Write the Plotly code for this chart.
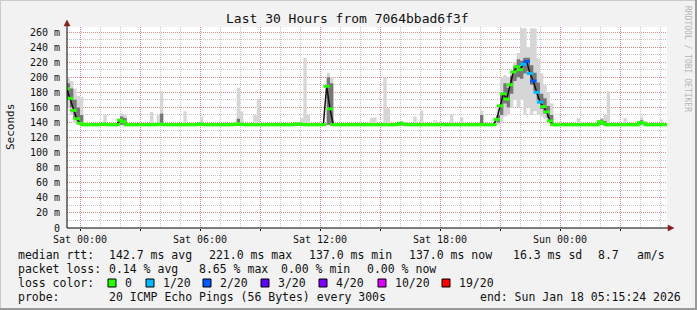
import plotly.graph_objects as go
import pandas as pd

# ---------------- data (10-minute samples starting Fri 2026-01-16 23:20) ----------------
start_time = "2026-01-16 23:20"
step = "10min"

median_ms = [
    185, 172, 156, 145, 139, 137, 137, 137, 137, 137,
    137, 138, 137, 137, 137, 137, 143, 141, 137, 137,
    137, 137, 137, 137, 137, 137, 137, 137, 138, 137,
    137, 137, 137, 137, 137, 137, 137, 137, 137, 137,
    138, 137, 137, 137, 137, 137, 137, 137, 137, 137,
    137, 138, 138, 137, 137, 137, 137, 137, 137, 137,
    137, 137, 137, 137, 137, 137, 137, 137, 137, 138,
    138, 137, 137, 137, 137, 137, 137, 137, 188, 158,
    137, 137, 137, 137, 137, 137, 137, 137, 137, 137,
    137, 137, 137, 137, 137, 137, 137, 137, 137, 137,
    139, 138, 137, 137, 137, 137, 137, 137, 137, 137,
    137, 137, 137, 137, 137, 137, 137, 137, 137, 137,
    137, 137, 137, 137, 137, 137, 137, 137, 137, 144,
    162, 178, 171, 190, 207, 214, 210, 217, 221, 205,
    195, 180, 167, 161, 154, 142, 137, 137, 137, 137,
    137, 137, 137, 137, 137, 137, 137, 137, 137, 137,
    141, 139, 137, 137, 137, 137, 137, 137, 137, 137,
    137, 137, 140, 139, 137, 137, 137, 137, 137, 137,
    137,
]

# lost pings out of 20 for each sample
loss_20 = [
    0, 0, 0, 0, 0, 0, 0, 0, 0, 0,
    0, 0, 0, 0, 0, 0, 0, 0, 0, 0,
    0, 0, 0, 0, 0, 0, 0, 0, 0, 0,
    0, 0, 0, 0, 0, 0, 0, 0, 0, 0,
    0, 0, 0, 0, 0, 0, 0, 0, 0, 0,
    0, 0, 0, 0, 0, 0, 0, 0, 0, 0,
    0, 0, 0, 0, 0, 0, 0, 0, 0, 0,
    0, 0, 0, 0, 0, 0, 0, 0, 0, 0,
    0, 0, 0, 0, 0, 0, 0, 0, 0, 0,
    0, 0, 0, 0, 0, 0, 0, 0, 0, 0,
    0, 0, 0, 0, 0, 0, 0, 0, 0, 0,
    0, 0, 0, 0, 0, 0, 0, 0, 0, 0,
    0, 0, 0, 0, 0, 0, 0, 0, 0, 0,
    0, 0, 0, 0, 0, 0, 0, 1, 2, 1,
    2, 1, 1, 0, 0, 0, 0, 0, 0, 0,
    0, 0, 0, 0, 0, 0, 0, 0, 0, 0,
    0, 0, 0, 0, 0, 0, 0, 0, 0, 0,
    0, 0, 0, 0, 0, 0, 0, 0, 0, 0,
    0,
]

# outer smoke (slowest / fastest ping)
smoke_max = [
    200, 195, 185, 175, 174, 140, 139, 139, 139, 139,
    139, 150, 139, 139, 139, 139, 152, 150, 139, 139,
    139, 139, 139, 139, 139, 154, 139, 150, 181, 139,
    139, 139, 139, 139, 139, 155, 139, 139, 139, 139,
    148, 139, 139, 139, 139, 139, 139, 139, 139, 139,
    139, 186, 155, 139, 139, 139, 150, 171, 139, 139,
    139, 139, 139, 139, 139, 139, 139, 139, 139, 139,
    146, 226, 150, 139, 139, 139, 139, 139, 206, 200,
    139, 139, 139, 139, 139, 139, 139, 139, 139, 139,
    139, 146, 147, 139, 139, 200, 159, 139, 139, 139,
    141, 139, 139, 139, 148, 139, 156, 139, 139, 139,
    143, 139, 139, 139, 139, 151, 139, 139, 147, 139,
    139, 139, 139, 139, 156, 139, 139, 139, 140, 160,
    200, 203, 200, 205, 220, 232, 265, 265, 240, 265,
    265, 225, 205, 190, 180, 165, 140, 139, 139, 139,
    139, 139, 139, 146, 139, 139, 139, 139, 139, 139,
    146, 150, 181, 139, 139, 139, 139, 146, 139, 139,
    139, 139, 148, 142, 139, 139, 139, 139, 144, 139,
    139,
]
smoke_min = [
    160, 150, 140, 137, 136, 136, 136, 136, 136, 136,
    136, 136, 136, 136, 136, 136, 136, 136, 136, 136,
    136, 136, 136, 136, 136, 136, 136, 136, 136, 136,
    136, 136, 136, 136, 136, 136, 136, 136, 136, 136,
    136, 136, 136, 136, 136, 136, 136, 136, 136, 136,
    136, 136, 136, 136, 136, 136, 136, 136, 136, 136,
    136, 136, 136, 136, 136, 136, 136, 136, 136, 136,
    136, 136, 136, 136, 136, 136, 136, 136, 136, 136,
    136, 136, 136, 136, 136, 136, 136, 136, 136, 136,
    136, 136, 136, 136, 136, 136, 136, 136, 136, 136,
    136, 136, 136, 136, 136, 136, 136, 136, 136, 136,
    136, 136, 136, 136, 136, 136, 136, 136, 136, 136,
    136, 136, 136, 136, 136, 136, 136, 136, 136, 137,
    140, 148, 150, 160, 170, 160, 170, 150, 160, 150,
    155, 150, 148, 145, 142, 137, 136, 136, 136, 136,
    136, 136, 136, 136, 136, 136, 136, 136, 136, 136,
    136, 136, 136, 136, 136, 136, 136, 136, 136, 136,
    136, 136, 136, 136, 136, 136, 136, 136, 136, 136,
    136,
]

# inner (dense) smoke
core_max = [
    192, 185, 170, 160, 150, 137, 137, 137, 137, 137,
    137, 137, 137, 137, 137, 137, 148, 146, 137, 137,
    137, 137, 137, 137, 137, 137, 137, 137, 152, 137,
    137, 137, 137, 137, 137, 137, 137, 137, 137, 137,
    137, 137, 137, 137, 137, 137, 137, 137, 137, 137,
    137, 145, 137, 137, 137, 137, 137, 137, 137, 137,
    137, 137, 137, 137, 137, 137, 137, 137, 137, 137,
    137, 137, 137, 137, 137, 137, 137, 137, 200, 192,
    137, 137, 137, 137, 137, 137, 137, 137, 137, 137,
    137, 137, 137, 137, 137, 137, 137, 137, 137, 137,
    141, 137, 137, 137, 137, 137, 137, 137, 137, 137,
    137, 137, 137, 137, 137, 137, 137, 137, 137, 137,
    137, 137, 137, 137, 150, 137, 137, 137, 137, 150,
    178, 192, 186, 202, 215, 224, 222, 226, 226, 216,
    206, 193, 178, 172, 162, 150, 137, 137, 137, 137,
    137, 137, 137, 137, 137, 137, 137, 137, 137, 137,
    144, 142, 137, 137, 137, 137, 137, 137, 137, 137,
    137, 137, 143, 137, 137, 137, 137, 137, 137, 137,
    137,
]
core_min = [
    170, 160, 145, 138, 137, 137, 137, 137, 137, 137,
    137, 137, 137, 137, 137, 137, 137, 137, 137, 137,
    137, 137, 137, 137, 137, 137, 137, 137, 137, 137,
    137, 137, 137, 137, 137, 137, 137, 137, 137, 137,
    137, 137, 137, 137, 137, 137, 137, 137, 137, 137,
    137, 137, 137, 137, 137, 137, 137, 137, 137, 137,
    137, 137, 137, 137, 137, 137, 137, 137, 137, 137,
    137, 137, 137, 137, 137, 137, 137, 137, 137, 137,
    137, 137, 137, 137, 137, 137, 137, 137, 137, 137,
    137, 137, 137, 137, 137, 137, 137, 137, 137, 137,
    136, 137, 137, 137, 137, 137, 137, 137, 137, 137,
    137, 137, 137, 137, 137, 137, 137, 137, 137, 137,
    137, 137, 137, 137, 137, 137, 137, 137, 137, 140,
    150, 165, 160, 178, 195, 200, 198, 205, 208, 190,
    182, 170, 158, 152, 146, 138, 137, 137, 137, 137,
    137, 137, 137, 137, 137, 137, 137, 137, 137, 137,
    137, 137, 137, 137, 137, 137, 137, 137, 137, 137,
    137, 137, 137, 137, 137, 137, 137, 137, 137, 137,
    137,
]

# axis ticks
x_tick_times = ["2026-01-17 00:00", "2026-01-17 03:00", "2026-01-17 06:00", "2026-01-17 09:00",
                "2026-01-17 12:00", "2026-01-17 15:00", "2026-01-17 18:00", "2026-01-17 21:00",
                "2026-01-18 00:00", "2026-01-18 03:00"]
x_tick_labels = ["Sat 00:00", "", "Sat 06:00", "", "Sat 12:00", "", "Sat 18:00", "", "Sun 00:00", ""]
y_tick_vals = [0, 20, 40, 60, 80, 100, 120, 140, 160, 180, 200, 220, 240, 260]
y_tick_labels = ["0", "20 m", "40 m", "60 m", "80 m", "100 m", "120 m", "140 m", "160 m",
                 "180 m", "200 m", "220 m", "240 m", "260 m"]

# legend texts
loss_levels = [0, 1, 2, 3, 4, 10, 19]
loss_labels = ["0", "1/20", "2/20", "3/20", "4/20", "10/20", "19/20"]
loss_palette = ["#26ff00", "#00b8ff", "#0059ff", "#5e00ff", "#7e00ff", "#dd00ff", "#ff0000"]
rtt_stats = ["142.7 ms avg", "221.0 ms max", "137.0 ms min", "137.0 ms now", "16.3 ms sd", "8.7", "am/s"]
loss_stats = ["0.14 % avg", "8.65 % max", "0.00 % min", "0.00 % now"]
probe_text = "20 ICMP Echo Pings (56 Bytes) every 300s"
end_text = "end: Sun Jan 18 05:15:24 2026"
title_text = "Last 30 Hours from 7064bbad6f3f"

# ---------------- figure ----------------
times = pd.date_range(start_time, periods=len(median_ms), freq=step)
color_of = dict(zip(loss_levels, loss_palette))
marker_colors = [color_of[v] for v in loss_20]

MONO = "DejaVu Sans Mono"
W, H = 697, 310
L, R, T, B = 67, 30, 27, 82
PW, PH = W - L - R, H - T - B


def px(x):
    return (x - L) / PW


def py(y):
    return (H - B - y) / PH


fig = go.Figure()
fig.add_trace(go.Scatter(x=times, y=smoke_min, mode="lines", line=dict(width=0, shape="hv"),
                         hoverinfo="skip", showlegend=False))
fig.add_trace(go.Scatter(x=times, y=smoke_max, mode="lines", line=dict(width=0, shape="hv"),
                         fill="tonexty", fillcolor="#d6d6d6", hoverinfo="skip", showlegend=False))
fig.add_trace(go.Scatter(x=times, y=core_min, mode="lines", line=dict(width=0, shape="hv"),
                         hoverinfo="skip", showlegend=False))
fig.add_trace(go.Scatter(x=times, y=core_max, mode="lines", line=dict(width=0, shape="hv"),
                         fill="tonexty", fillcolor="#777777", hoverinfo="skip", showlegend=False))
fig.add_trace(go.Scatter(x=times, y=median_ms, mode="lines", line=dict(width=1.5, color="#111111"),
                         hoverinfo="skip", showlegend=False))
fig.add_trace(go.Scatter(x=times, y=median_ms, mode="markers",
                         marker=dict(symbol="line-ew", size=4.5,
                                     line=dict(width=3, color=marker_colors)),
                         hoverinfo="skip", showlegend=False))

x_start = pd.Timestamp("2026-01-17 00:00") - pd.Timedelta(minutes=39)
x_end = x_start + pd.Timedelta(hours=30)
y_top = PH / (196 / 260)

grid_major = "rgba(240,90,90,0.55)"
grid_minor = "rgba(150,150,150,0.55)"

fig.update_layout(
    width=W, height=H, autosize=False,
    margin=dict(l=L, r=R, t=T, b=B),
    paper_bgcolor="#f2f2f2", plot_bgcolor="#ffffff",
    font=dict(family=MONO, size=10, color="#111111"),
    showlegend=False,
    xaxis=dict(range=[x_start, x_end], tickvals=x_tick_times, ticktext=x_tick_labels,
               showgrid=True, gridcolor=grid_major, griddash="1px,1px", gridwidth=1,
               minor=dict(dtick=3600000, tick0="2026-01-17 00:00", showgrid=True,
                          gridcolor=grid_minor, griddash="1px,1px", gridwidth=1),
               ticks="outside", ticklen=2, tickcolor="#000000", zeroline=False,
               showline=False, tickfont=dict(family=MONO, size=10, color="#111111")),
    yaxis=dict(range=[0, y_top], tickvals=y_tick_vals, ticktext=y_tick_labels,
               showgrid=True, gridcolor=grid_major, griddash="1px,1px", gridwidth=1,
               minor=dict(dtick=10, tick0=0, showgrid=True, gridcolor=grid_minor,
                          griddash="1px,1px", gridwidth=1),
               ticks="outside", ticklen=4, tickcolor="rgba(0,0,0,0)", zeroline=False,
               showline=False, tickfont=dict(family=MONO, size=10, color="#111111")),
)

shapes = []
# axes with arrows
shapes.append(dict(type="line", xref="paper", yref="paper", x0=px(67), x1=px(670), y0=py(228), y1=py(228),
                   line=dict(color="#000000", width=1)))
shapes.append(dict(type="line", xref="paper", yref="paper", x0=px(67), x1=px(67), y0=py(228), y1=py(23),
                   line=dict(color="#000000", width=1)))
shapes.append(dict(type="path", xref="paper", yref="paper",
                   path=f"M {px(668)},{py(225)} L {px(674)},{py(228)} L {px(668)},{py(231)} Z",
                   fillcolor="#8b1c1c", line=dict(color="#8b1c1c", width=0.5)))
shapes.append(dict(type="path", xref="paper", yref="paper",
                   path=f"M {px(64)},{py(26)} L {px(67)},{py(20)} L {px(70)},{py(26)} Z",
                   fillcolor="#8b1c1c", line=dict(color="#8b1c1c", width=0.5)))
# image frame
shapes.append(dict(type="line", xref="paper", yref="paper", x0=px(0), x1=px(W), y0=py(0.5), y1=py(0.5),
                   line=dict(color="#cbcbcb", width=1)))
shapes.append(dict(type="line", xref="paper", yref="paper", x0=px(0.5), x1=px(0.5), y0=py(0), y1=py(H),
                   line=dict(color="#cbcbcb", width=1)))
shapes.append(dict(type="line", xref="paper", yref="paper", x0=px(W - 1), x1=px(W - 1), y0=py(0), y1=py(H),
                   line=dict(color="#999999", width=2)))
shapes.append(dict(type="line", xref="paper", yref="paper", x0=px(0), x1=px(W), y0=py(H - 1), y1=py(H - 1),
                   line=dict(color="#999999", width=2)))

annotations = []


def text(s, x, y, size=11.5, color="#111111", xanchor="left", angle=0):
    annotations.append(dict(text=s, x=px(x), y=py(y), xref="paper", yref="paper", showarrow=False,
                            xanchor=xanchor, yanchor="middle", textangle=angle,
                            font=dict(family=MONO, size=size, color=color)))


text(title_text, 347.5, 19, size=13, xanchor="center")
text("Seconds", 11, 127, size=11, xanchor="center", angle=-90)
text("RRDTOOL / TOBI OETIKER", 688, 59, size=8, color="#b5b5b5", xanchor="center", angle=90)

row_y = [255, 269, 283, 297]
text("median rtt:", 16, row_y[0])
for s, x in zip(rtt_stats, [107, 207, 307, 407, 511, 596, 635]):
    text(s, x, row_y[0])
text("packet loss:", 16, row_y[1])
for s, x in zip(loss_stats, [107, 197, 279, 365]):
    text(s, x, row_y[1])
text("loss color:", 16, row_y[2])
box_x = [108, 146, 203, 261, 319, 378, 442]
for bx, lab, col in zip(box_x, loss_labels, loss_palette):
    shapes.append(dict(type="rect", xref="paper", yref="paper", x0=px(bx), x1=px(bx + 8),
                       y0=py(287), y1=py(279), fillcolor=col, line=dict(color="#000000", width=1)))
    text(lab, bx + 15, row_y[2])
text("probe:", 16, row_y[3])
text(probe_text, 107, row_y[3])
text(end_text, 478, row_y[3])

fig.update_layout(shapes=shapes, annotations=annotations)
fig.write_html("out.html", config={"displayModeBar": False})
